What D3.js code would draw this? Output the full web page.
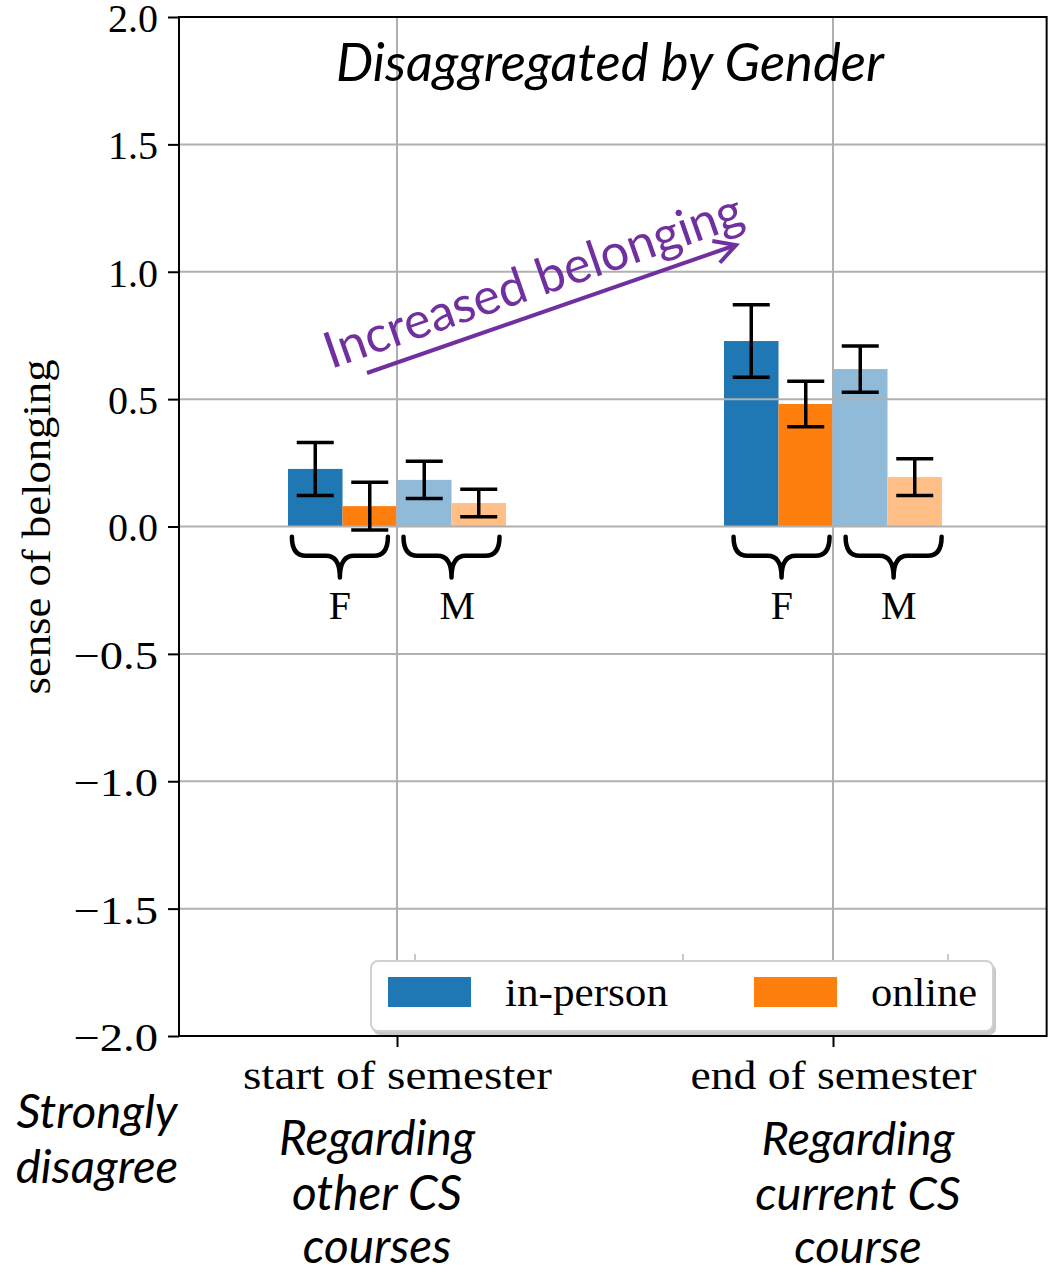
<!DOCTYPE html>
<html><head><meta charset="utf-8">
<script src="https://cdn.jsdelivr.net/npm/d3@7"></script>
<style>body{margin:0;background:#fff}svg{display:block}</style>
</head><body>
<svg id="c" width="1050" height="1275"></svg>
<script>
// ---- data ----
const categories = ["start of semester", "end of semester"];
const seriesNames = ["in-person F", "online F", "in-person M", "online M"];
const inPersonF = [0.226, 0.728];
const onlineF   = [0.080, 0.481];
const inPersonM = [0.183, 0.618];
const onlineM   = [0.092, 0.194];
const errInPersonF = [0.104, 0.142];
const errOnlineF   = [0.094, 0.089];
const errInPersonM = [0.073, 0.091];
const errOnlineM   = [0.054, 0.072];
const yTicks = [-2.0, -1.5, -1.0, -0.5, 0.0, 0.5, 1.0, 1.5, 2.0];
const genderLabels = ["F", "M"];
const legendLabels = ["in-person", "online"];
const subLabelsLeft = ["Regarding", "other CS", "courses"];
const subLabelsRight = ["Regarding", "current CS", "course"];
const anchorLabel = ["Strongly", "disagree"];

const series = [inPersonF, onlineF, inPersonM, onlineM];
const errs = [errInPersonF, errOnlineF, errInPersonM, errOnlineM];
const colors = ["#1f77b4", "#ff7f0e", "#8fbbd9", "#ffbf87"];

const svg = d3.select("#c");
const SERIF = "'Liberation Serif', 'DejaVu Serif', serif";
const SANS = "Lato, 'Open Sans', 'Noto Sans', sans-serif";
const purple = "#7030a0";

const x = d3.scaleLinear().domain([0, 1]).range([397, 833]);
const xlim = [-0.5, 1.49];
const y = d3.scaleLinear().domain([-2, 2]).range([1036, 17]);
const barW = 0.125;
const L = x(xlim[0]), R = x(xlim[1]), T = y(2), B = y(-2);

function fit(sel, target) {
  const n = sel.node();
  const fs = parseFloat(sel.attr("font-size"));
  const w = n.getComputedTextLength();
  const nf = fs * target / w;
  sel.attr("font-size", nf);
  return nf;
}
function stretch(sel, target) {
  sel.attr("textLength", target).attr("lengthAdjust", "spacingAndGlyphs");
}

// ---- bars ----
const barG = svg.append("g");
series.forEach((s, k) => {
  barG.selectAll(null).data(s).enter().append("rect")
    .attr("x", (d, i) => x(i + (k - 2) * barW))
    .attr("width", x(barW) - x(0))
    .attr("y", d => y(Math.max(0, d)))
    .attr("height", d => Math.abs(y(0) - y(d)))
    .attr("fill", colors[k]);
});

// ---- grid ----
const grid = svg.append("g").attr("stroke", "#b0b0b0").attr("stroke-width", 2);
grid.selectAll(null).data(yTicks.filter(t => t > -2 && t < 2)).enter().append("line")
  .attr("x1", L).attr("x2", R).attr("y1", d => y(d)).attr("y2", d => y(d));
grid.selectAll(null).data(categories).enter().append("line")
  .attr("x1", (d, i) => x(i)).attr("x2", (d, i) => x(i)).attr("y1", T).attr("y2", B);

// ---- error bars ----
const eb = svg.append("g").attr("stroke", "#000").attr("stroke-width", 3.5);
const capHalf = 18.5;
series.forEach((s, k) => {
  s.forEach((v, i) => {
    const cx = x(i + (k - 1.5) * barW);
    const e = errs[k][i];
    eb.append("line").attr("x1", cx).attr("x2", cx).attr("y1", y(v + e)).attr("y2", y(v - e));
    eb.append("line").attr("x1", cx - capHalf).attr("x2", cx + capHalf).attr("y1", y(v + e)).attr("y2", y(v + e));
    eb.append("line").attr("x1", cx - capHalf).attr("x2", cx + capHalf).attr("y1", y(v - e)).attr("y2", y(v - e));
  });
});

// ---- braces + F/M labels ----
const braceG = svg.append("g").attr("fill", "none").attr("stroke", "#000").attr("stroke-width", 4.5).attr("stroke-linecap", "round");
function bracePath(x0, x1, top, mid, tip) {
  const xc = (x0 + x1) / 2, r = 14;
  return `M${x0},${top} Q${x0},${mid} ${x0 + r},${mid} L${xc - r},${mid} Q${xc},${mid} ${xc},${tip} ` +
         `M${xc},${tip} Q${xc},${mid} ${xc + r},${mid} L${x1 - r},${mid} Q${x1},${mid} ${x1},${top}`;
}
// annotation nudges (data units, per category / gender), as placed in the original figure
const braceShift = [[-0.006, 0.0], [0.007, 0.014]];
const labelShift = [[-0.006, 0.013], [0.008, 0.026]];
categories.forEach((c, i) => {
  genderLabels.forEach((g, j) => {
    const base = i + (j === 0 ? -barW : barW);
    const pc = x(base + braceShift[i][j]);
    braceG.append("path").attr("d", bracePath(pc - 48, pc + 48, y(-0.04), y(-0.115), y(-0.2)));
    svg.append("text").attr("x", x(base + labelShift[i][j])).attr("y", 619).attr("text-anchor", "middle")
      .attr("font-family", SERIF).attr("font-size", 40).text(g);
  });
});

// ---- spines ----
svg.append("rect").attr("x", L).attr("y", T).attr("width", R - L).attr("height", B - T)
  .attr("fill", "none").attr("stroke", "#000").attr("stroke-width", 2);

// ---- y axis ----
const yAxis = svg.append("g").attr("transform", `translate(${L},0)`)
  .call(d3.axisLeft(y).tickValues(yTicks).tickFormat(d3.format(".1f")).tickSize(11).tickPadding(10));
yAxis.select(".domain").remove();
yAxis.selectAll("line").attr("stroke-width", 2);
yAxis.selectAll("text").attr("font-family", SERIF).attr("font-size", 40).attr("fill", "#000").attr("dy", "0.36em")
  .each(function (d) {
    if (d < 0) { const t = d3.select(this); stretch(t, this.getComputedTextLength() + 12); }
  });

// ---- x axis ----
const xAxis = svg.append("g").attr("transform", `translate(0,${B})`)
  .call(d3.axisBottom(x).tickValues([0, 1]).tickFormat((d) => categories[d]).tickSize(11).tickPadding(0));
xAxis.select(".domain").remove();
xAxis.selectAll("line").attr("stroke-width", 2);
const xTargets = [309, 286];
xAxis.selectAll("text").attr("font-family", SERIF).attr("font-size", 40).attr("fill", "#000")
  .attr("dy", null).attr("y", 53).each(function (d) { stretch(d3.select(this), xTargets[d]); });

// ---- y label ----
const yl = svg.append("text").attr("transform", "translate(50,527) rotate(-90)")
  .attr("text-anchor", "middle").attr("font-family", SERIF).attr("font-size", 40).text("sense of belonging");
stretch(yl, 335);

// ---- title ----
const title = svg.append("text").attr("x", 610).attr("y", 81).attr("text-anchor", "middle")
  .attr("font-family", SANS).attr("font-style", "italic").attr("font-size", 44).text("Disaggregated by Gender");
fit(title, 548);

// ---- arrow + text ----
const a0 = [367, 373], a1 = [736, 245];
svg.append("line").attr("x1", a0[0]).attr("y1", a0[1]).attr("x2", a1[0]).attr("y2", a1[1])
  .attr("stroke", purple).attr("stroke-width", 4);
const ang = Math.atan2(a1[1] - a0[1], a1[0] - a0[0]);
const ah = 24, spread = 0.5;
svg.append("path").attr("fill", "none").attr("stroke", purple).attr("stroke-width", 4).attr("stroke-linejoin", "miter")
  .attr("d", `M${a1[0] - ah * Math.cos(ang - spread)},${a1[1] - ah * Math.sin(ang - spread)} L${a1[0]},${a1[1]} L${a1[0] - ah * Math.cos(ang + spread)},${a1[1] - ah * Math.sin(ang + spread)}`);
const incr = svg.append("text").attr("transform", `translate(331,369) rotate(${ang * 180 / Math.PI})`)
  .attr("font-family", SANS).attr("font-size", 44).attr("fill", purple).text("Increased belonging");
fit(incr, 440);

// ---- legend ----
const lg = svg.append("g");
[415, 683, 948].forEach(t => lg.append("line").attr("x1", t).attr("x2", t).attr("y1", 954).attr("y2", 961).attr("stroke", "#c8c8c8").attr("stroke-width", 2));
lg.append("rect").attr("x", 373).attr("y", 964).attr("width", 623).attr("height", 71).attr("rx", 7).attr("fill", "#c8c8c8");
lg.append("rect").attr("x", 371).attr("y", 961).attr("width", 622).attr("height", 70).attr("rx", 7)
  .attr("fill", "#fff").attr("stroke", "#d0d0d0").attr("stroke-width", 2);
const legX = [388, 754];
const legTextW = [163, 106];
legendLabels.forEach((l, i) => {
  lg.append("rect").attr("x", legX[i]).attr("y", 977).attr("width", 83).attr("height", 30).attr("fill", colors[i]);
  const t = lg.append("text").attr("x", legX[i] + 117).attr("y", 1006).attr("font-family", SERIF).attr("font-size", 40).text(l);
  stretch(t, legTextW[i]);
});

// ---- bottom italic annotations ----
function block(lines, cx, baselines, targetFirst) {
  const ts = lines.map((l, i) => svg.append("text").attr("x", cx).attr("y", baselines[i]).attr("text-anchor", "middle")
    .attr("font-family", SANS).attr("font-style", "italic").attr("font-size", 40).text(l));
  const fs = fit(ts[0], targetFirst);
  ts.forEach(t => t.attr("font-size", fs));
}
block(anchorLabel, 97, [1128, 1183], 161);
block(subLabelsLeft, 377, [1155, 1210, 1263], 196);
block(subLabelsRight, 858, [1155, 1210, 1263], 193);
</script>
</body></html>
